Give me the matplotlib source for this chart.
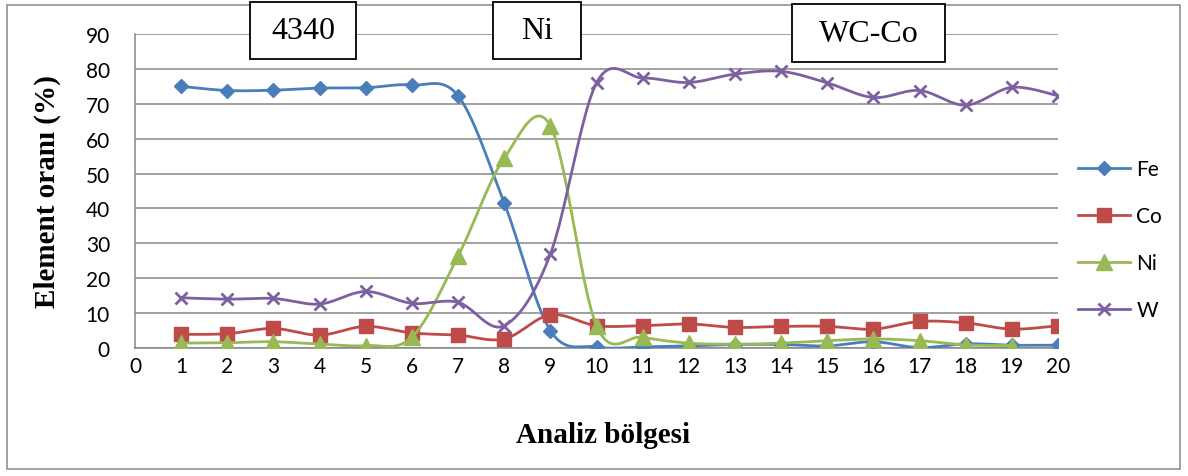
import numpy as np
import matplotlib
matplotlib.use("Agg")
import matplotlib.pyplot as plt
from matplotlib.patches import Rectangle
from matplotlib.lines import Line2D

# Analysis regions along the joint and measured element fractions (%)
regions = list(range(1, 21))
fe = [75.0, 73.8, 73.9, 74.5, 74.6, 75.4, 72.3, 41.6, 5.0, 0.3,
      0.3, 0.6, 1.0, 1.0, 0.6, 1.8, 0.1, 1.2, 0.8, 0.8]
co = [3.9, 4.1, 5.6, 3.7, 6.2, 4.3, 3.7, 2.6, 9.5, 6.4,
      6.4, 6.9, 5.9, 6.2, 6.2, 5.4, 7.6, 7.2, 5.4, 6.4]
ni = [1.4, 1.5, 1.8, 1.1, 0.7, 3.1, 26.3, 54.4, 63.7, 6.4,
      3.1, 1.4, 1.1, 1.4, 2.1, 2.6, 2.1, 0.9, 0.7, None]
w = [14.4, 14.0, 14.2, 12.6, 16.2, 12.8, 13.1, 6.4, 26.9, 76.0,
     77.4, 76.1, 78.5, 79.3, 76.0, 71.8, 73.8, 69.6, 74.7, 72.3]

series_names = ["Fe", "Co", "Ni", "W"]
x_ticks = list(range(0, 21))
y_ticks = list(range(0, 91, 10))
zone_labels = ["4340", "Ni", "WC-Co"]

TICK_FONT = ["Lato", "DejaVu Sans"]
SERIF = ["Liberation Serif", "DejaVu Serif"]


def smooth_curve(xs, ys, n=40):
    """Catmull-Rom style Bezier smoothing through the points."""
    pts = [(a, b) for a, b in zip(xs, ys) if b is not None]
    x = np.array([p[0] for p in pts], float)
    y = np.array([p[1] for p in pts], float)
    px = np.concatenate([[x[0]], x, [x[-1]]])
    py = np.concatenate([[y[0]], y, [y[-1]]])
    t = np.linspace(0, 1, n)
    ox, oy = [], []
    for i in range(len(x) - 1):
        p0 = np.array([px[i], py[i]])
        p1 = np.array([px[i + 1], py[i + 1]])
        p2 = np.array([px[i + 2], py[i + 2]])
        p3 = np.array([px[i + 3], py[i + 3]])
        c1 = p1 + (p2 - p0) / 6.0
        c2 = p2 - (p3 - p1) / 6.0
        b = ((1 - t) ** 3)[:, None] * p1 + (3 * (1 - t) ** 2 * t)[:, None] * c1 \
            + (3 * (1 - t) * t ** 2)[:, None] * c2 + (t ** 3)[:, None] * p2
        ox.extend(b[:, 0]); oy.extend(b[:, 1])
    return np.array(ox), np.array(oy), x, y


W_PX, H_PX = 1188, 477
fig = plt.figure(figsize=(W_PX / 100, H_PX / 100), dpi=100)


def fx(px):
    return px / W_PX


def fy(py):
    return 1 - py / H_PX


ax = fig.add_axes([fx(135), fy(349), fx(1058) - fx(135), fy(35) - fy(349)])

styles = {
    "Fe": dict(color="#4A7EBB", marker="D", ms=7.5, mew=1),
    "Co": dict(color="#BE4B48", marker="s", ms=9.5, mew=1),
    "Ni": dict(color="#98B954", marker="^", ms=11, mew=1),
    "W": dict(color="#7D60A0", marker="x", ms=9, mew=2),
}
data = {"Fe": fe, "Co": co, "Ni": ni, "W": w}

handles = []
for k, name in enumerate(series_names):
    st = styles[name]
    sx, sy, mx, my = smooth_curve(regions, data[name])
    ax.plot(sx, sy, color=st["color"], lw=2.0, zorder=3 + k, solid_capstyle="round")
    ax.plot(mx, my, ls="none", marker=st["marker"], ms=st["ms"], mew=st["mew"],
            color=st["color"], mfc=st["color"], mec=st["color"], zorder=3 + k)
    handles.append(Line2D([], [], color=st["color"], lw=2.0, marker=st["marker"],
                          ms=st["ms"], mew=st["mew"], mfc=st["color"], mec=st["color"]))

ax.set_xlim(0, 20)
ax.set_ylim(0, 90)
ax.set_xticks(x_ticks)
ax.set_yticks(y_ticks)
ax.set_xticklabels([str(v) for v in x_ticks], fontsize=15, family=TICK_FONT)
ax.set_yticklabels([str(v) for v in y_ticks], fontsize=15, family=TICK_FONT)
ax.tick_params(axis="x", length=0, pad=6)
ax.tick_params(axis="y", length=0, pad=18)
ax.yaxis.grid(True, color="#868686", lw=1.1)
ax.set_axisbelow(True)
for s in ("top", "right"):
    ax.spines[s].set_visible(False)
for s in ("left", "bottom"):
    ax.spines[s].set_color("#868686")
    ax.spines[s].set_linewidth(1.1)

# axis titles
fig.text(fx(603), fy(443), "Analiz bölgesi", family=SERIF, fontweight="bold",
         fontsize=21, ha="center", va="baseline")
fig.text(fx(47), fy(192), "Element oranı (%)", family=SERIF, fontweight="bold",
         fontsize=21, ha="center", va="center", rotation=90)

# legend
fig.legend(handles, series_names, loc="center left",
           bbox_to_anchor=(fx(1078), fy(240.5)), frameon=False,
           prop={"family": TICK_FONT, "size": 15}, handlelength=2.5,
           handletextpad=0.3, labelspacing=1.3, borderpad=0, borderaxespad=0)

# outer chart frame
frame_col = "#868686"
fig.add_artist(Rectangle((fx(7), fy(470)), fx(1180) - fx(7), fy(6) - fy(470),
                         transform=fig.transFigure, facecolor="none",
                         edgecolor=frame_col, lw=1.1))

# zone label boxes
boxes = [(250, 356, 3, 60), (493, 581, 3, 60), (792, 945, 5, 63)]
for label, (x0, x1, y0, y1) in zip(zone_labels, boxes):
    fig.add_artist(Rectangle((fx(x0), fy(y1)), fx(x1) - fx(x0), fy(y0) - fy(y1),
                             transform=fig.transFigure, facecolor="white",
                             edgecolor="black", lw=1.3, zorder=10))
    fig.text(fx((x0 + x1) / 2), fy((y0 + y1) / 2), label, family=SERIF,
             fontsize=23, ha="center", va="center", zorder=11)

fig.savefig("out.png", dpi=100, facecolor="white")
